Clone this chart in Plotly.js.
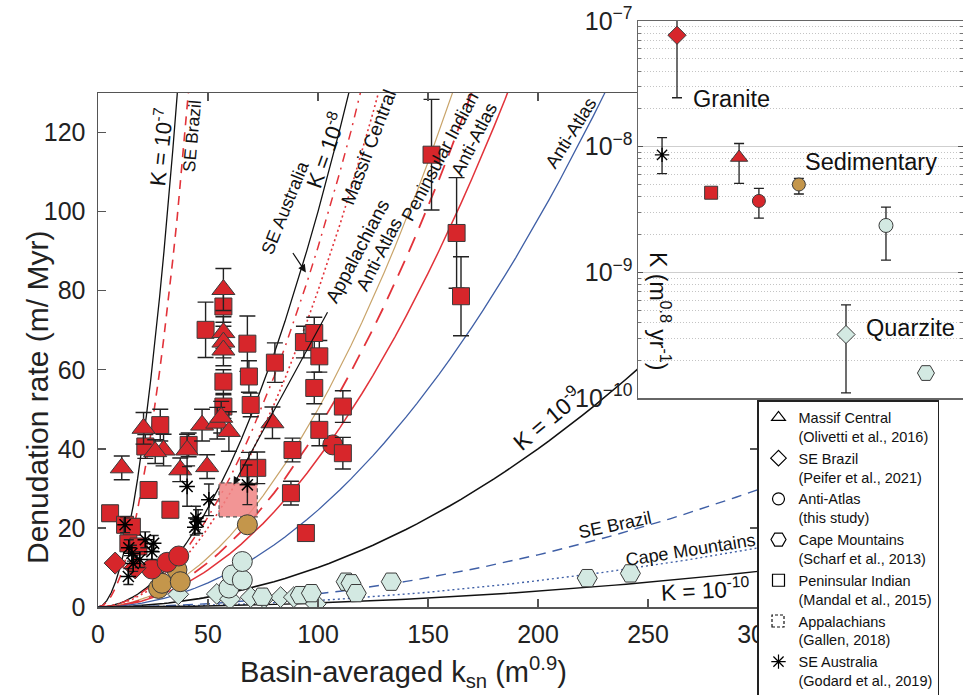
<!DOCTYPE html>
<html>
<head>
<meta charset="utf-8">
<script src="https://cdn.plot.ly/plotly-3.0.1.min.js"></script>
<style>html,body{margin:0;padding:0;background:#fff}#chart{width:963px;height:695px}</style>
</head>
<body>
<div id="chart"></div>
<script>
// ---------------- DATA ----------------
// Model curves E = K * ksn^n (n = 2), K values
var curveNames = ['K = 1e-7','SE Brazil granite','K = 1e-8','Massif Central','Appalachians','Anti-Atlas sed.','Peninsular Indian','Anti-Atlas granite','Anti-Atlas quartzite','K = 1e-9','SE Brazil quartzite','Cape Mountains','K = 1e-10'];
var curveK = [1e-7, 7.6e-8, 1e-8, 9.1e-9, 8.0e-9, 5.0e-9, 4.5e-9, 3.75e-9, 2.45e-9, 1e-9, 3.3e-10, 1.66e-10, 1e-10];
var streamPowerN = 2;
var ksnGrid = [0,2,4,6,8,10,12,14,16,18,20,22,24,26,28,30,32,34,36,38,40,42,44,46,48,50,55,60,65,70,75,80,85,90,95,100,105,110,115,120,125,130,135,140,145,150,155,160,165,170,175,180,185,190,195,200,205,210,215,220,225,230,235,240,245,250,255,260,265,270,275,280,285,290,295,300];

// Massif Central (triangles)
var mcKsn = [57, 57, 57, 57, 10.8, 20.7, 29.8, 26, 40.5, 37.4, 49.6, 47.3, 54.2, 59.5, 79.3, 56];
var mcE   = [80.3, 69.4, 67, 65, 35.2, 45.2, 39.7, 39.3, 39.7, 34.7, 35.5, 46, 46.5, 44.4, 46.6, 48];
var mcErr = [5.3, 4, 4, 4, 3, 4, 4, 3, 4, 3, 3, 4, 4, 5, 4, 4];
// Peninsular Indian (squares)
var piKsn = [57, 57, 57, 48.9, 67.9, 68.6, 69.4, 80.4, 93.6, 98.3, 100.6, 98.3, 111.3, 100.6, 111.3, 88.4, 87.7, 94.5, 72.4, 151.6, 163, 165, 28.3, 21.5, 41.2, 23, 32.9, 5.5, 12.3, 15.4, 13.8, 18.4, 68.6];
var piE   = [76, 57, 50.7, 70.1, 66.6, 58.3, 51.1, 61.8, 67, 69.3, 63.4, 55.4, 50.7, 44.8, 38.9, 39.7, 28.8, 18.7, 35.2, 114.4, 94.6, 78.6, 46, 40.6, 41, 29.6, 24.6, 23.7, 20.8, 20.3, 16.1, 15.3, 35.1];
var piErr = [4, 3, 3, 7, 7, 4, 3, 5, 4, 4, 4, 4, 4, 4, 4, 3, 3, 2, 4, 14, 14, 10, 4, 3, 3, 2, 2, 2, 2, 2, 2, 2, 4];
// SE Brazil (diamonds)
var sbGraniteKsn = [7.8, 16.9];
var sbGraniteE   = [11.1, 9.9];
var sbQuartzKsn  = [36.5, 54, 60, 69.4, 75.5, 83, 89, 99];
var sbQuartzE    = [3.2, 3.3, 2.0, 2.5, 2.2, 2.5, 2.5, 0.8];
// Anti-Atlas (circles, this study)
var aaGraniteKsn = [24.5, 31.4, 36.7, 106.7];
var aaGraniteE   = [9.6, 11.3, 12.9, 41];
var aaSedKsn = [27.5, 29.1, 35.9, 37.4, 67.9];
var aaSedE   = [4.7, 6.0, 9.4, 6.4, 20.8];
var aaQuartzKsn = [59.5, 61, 65.6, 65.6];
var aaQuartzE   = [4.8, 8.1, 6.8, 11.5];
// Cape Mountains (hexagons)
var cmKsn = [74.7, 92, 97, 112.8, 115, 117.4, 133.3, 222.4, 242];
var cmE   = [2.6, 3.0, 3.5, 6.4, 6.0, 3.5, 6.4, 7.3, 8.5];
// SE Australia (stars)
var saKsn = [40.5, 50.4, 44.5, 45.5, 44, 67.9, 12.3, 15.4, 21.5, 25.3, 24.5, 13.8, 16, 14, 19];
var saE   = [30.5, 27.1, 22.5, 21.6, 20.2, 30.9, 20.8, 13.6, 17, 16.1, 14, 7.7, 11, 15, 12];
var saErr = [5, 4, 3, 3, 2, 5, 2, 2, 2, 2, 2, 2, 2, 2, 2];
// Appalachians (box)
var apKsn = [55, 72.4];
var apE   = [22.8, 31.4];

// Inset: K by region / lithology
var insetNames = ['SE Australia','SE Brazil granite','Peninsular Indian','Massif Central','Anti-Atlas granite','Anti-Atlas sedimentary','SE Brazil quartzite','Anti-Atlas quartzite','Cape Mountains'];
var insetOrder = [0.74, 1.2, 2.25, 3.11, 3.72, 4.95, 6.4, 7.63, 8.86];
var insetK   = [8.6e-9, 7.7e-8, 4.3e-9, 8.2e-9, 3.7e-9, 5.0e-9, 3.2e-10, 2.36e-9, 1.58e-10];
var insetKhi = [1.18e-8, 1.4e-7, 4.3e-9, 1.06e-8, 4.65e-9, 5.6e-9, 5.5e-10, 3.3e-9, 1.58e-10];
var insetKlo = [6.1e-9, 2.45e-8, 4.3e-9, 5.1e-9, 2.7e-9, 4.2e-9, 1.1e-10, 1.25e-9, 1.58e-10];

var legendNames = ['Massif Central<br>(Olivetti et al., 2016)','SE Brazil<br>(Peifer et al., 2021)','Anti-Atlas<br>(this study)','Cape Mountains<br>(Scharf et al., 2013)','Peninsular Indian<br>(Mandal et al., 2015)','Appalachians<br>(Gallen, 2018)','SE Australia<br>(Godard et al., 2019)'];

// ---------------- STYLE ----------------
var RED = '#d7262b', TAN = '#c4964b', MINT = '#d3e9e2', BLUE = '#3f5fa6', OUT = '#3a3a3a';
var curveStyle = [
  {color:'#111', width:1.3, dash:'solid'},
  {color:'#e2333a', width:1.6, dash:'9px,7px'},
  {color:'#111', width:1.3, dash:'solid'},
  {color:'#e2333a', width:1.5, dash:'9px,6px,2px,6px'},
  {color:'#e2333a', width:1.6, dash:'2px,3px'},
  {color:'#c9a46a', width:1.2, dash:'solid'},
  {color:'#e2333a', width:1.8, dash:'16px,10px'},
  {color:'#e2333a', width:1.5, dash:'solid'},
  {color:BLUE, width:1.3, dash:'solid'},
  {color:'#111', width:1.6, dash:'solid'},
  {color:BLUE, width:1.4, dash:'10px,7px'},
  {color:BLUE, width:1.4, dash:'2px,3px'},
  {color:'#111', width:1.4, dash:'solid'}
];

var traces = [];
curveK.forEach(function(k, i){
  traces.push({
    x: ksnGrid, y: ksnGrid.map(function(s){ return k*Math.pow(s, streamPowerN)*1e6; }),
    type:'scatter', mode:'lines', name: curveNames[i], showlegend:false,
    line: curveStyle[i], hoverinfo:'skip', xaxis:'x', yaxis:'y'
  });
});

// Appalachians box
traces.push({
  x:[apKsn[0], apKsn[1], apKsn[1], apKsn[0], apKsn[0]],
  y:[apE[0], apE[0], apE[1], apE[1], apE[0]],
  type:'scatter', mode:'lines', fill:'toself', fillcolor:'rgba(240,130,130,0.85)',
  line:{color:'#555', width:1.2, dash:'4px,3px'}, showlegend:false, hoverinfo:'skip'
});

function pts(xs, ys, sym, col, size, err){
  var t = {x:xs, y:ys, type:'scatter', mode:'markers', showlegend:false, hoverinfo:'skip',
    marker:{symbol:sym, color:col, size:size, opacity:1, line:{color:OUT, width:1}}};
  if (err) t.error_y = {type:'data', array:err, visible:true, color:'#222', thickness:1.4, width:8};
  return t;
}
traces.push(pts(sbQuartzKsn, sbQuartzE, 'diamond', MINT, 16));
traces.push(pts(cmKsn, cmE, 'hexagon2', MINT, 20));
traces.push(pts(aaQuartzKsn, aaQuartzE, 'circle', MINT, 20));
traces.push(pts(aaSedKsn, aaSedE, 'circle', TAN, 20));
traces.push(pts(aaGraniteKsn, aaGraniteE, 'circle', RED, 20));
traces.push(pts(piKsn, piE, 'square', RED, 17, piErr));
traces.push(pts(mcKsn, mcE, 'triangle-up', RED, 20, mcErr));
traces.push(pts(sbGraniteKsn, sbGraniteE, 'diamond', RED, 17));
var sa = pts(saKsn, saE, 'asterisk', '#000', 13, saErr);
sa.marker.line = {color:'#000', width:1.5};
sa.error_y.width = 5;
traces.push(sa);

// inset
traces.push({
  x: insetOrder, y: insetK, type:'scatter', mode:'markers', xaxis:'x2', yaxis:'y2',
  showlegend:false, hoverinfo:'skip', text: insetNames,
  marker:{symbol:['asterisk','diamond','square','triangle-up','circle','circle','diamond','circle','hexagon2'],
          color:['#000', RED, RED, RED, RED, TAN, MINT, MINT, MINT],
          size:[12, 14, 13, 15, 13, 13, 14, 14, 17], opacity:1,
          line:{color:['#000', OUT, OUT, OUT, OUT, OUT, OUT, OUT, OUT], width:[1.3,1,1,1,1,1,1,1,1]}},
  error_y:{type:'data', array: insetKhi.map(function(h,i){return h-insetK[i];}),
           arrayminus: insetKlo.map(function(l,i){return insetK[i]-l;}),
           visible:true, color:'#222', thickness:1.3, width:5}
});

// legend entries
var legSym = ['triangle-up-open','diamond-open','circle-open','hexagon2-open','square-open','square-open','asterisk-open'];
legendNames.forEach(function(n, i){
  var hidden = (i === 5); // Appalachians: dashed box drawn as a shape
  traces.push({x:[null], y:[null], type:'scatter', mode:'markers', name:n, showlegend:true,
    marker:{symbol:legSym[i], size:(i===3?15:12), color:hidden?'rgba(0,0,0,0)':'#000',
            line:{color:hidden?'rgba(0,0,0,0)':'#000', width:1.2}},
    xaxis:'x', yaxis:'y'});
});

// ---------------- LAYOUT ----------------
var W = 963, H = 695;
function px(x){ return x / W; }
function py(y){ return 1 - y / H; }
var F = 'Liberation Sans, Arial, sans-serif';

function lbl(text, x, y, ang, size, col){
  return {text:text, xref:'paper', yref:'paper', x:px(x), y:py(y), xanchor:'center', yanchor:'middle',
    showarrow:false, textangle:ang, font:{family:F, size:size, color:col||'#111'}};
}

var annotations = [
  lbl('K = 10<sup>-7</sup>', 160, 147, -84, 22),
  lbl('SE Brazil', 192, 136, -85, 17.5),
  lbl('SE Australia', 285, 208, -68, 18),
  lbl('K = 10<sup>-8</sup>', 325, 150, -70, 22),
  lbl('Massif Central', 369, 148, -69, 19),
  lbl('Appalachians', 357, 251, -62, 19),
  lbl('Anti-Atlas', 379, 255, -63, 18.5),
  lbl('Peninsular Indian', 440, 157, -62, 18.5),
  lbl('Anti-Atlas', 474, 140, -63, 18.5),
  lbl('Anti-Atlas', 570, 133, -58, 18.5),
  lbl('K = 10<sup>-9</sup>', 547, 418, -40, 23),
  lbl('SE Brazil', 615, 525, -12, 18),
  lbl('Cape Mountains', 690, 550, -9, 18),
  lbl('K = 10<sup>-10</sup>', 705, 589, -3, 22.5),
  lbl('Granite', 731, 99, 0, 23.5),
  lbl('Sedimentary', 871, 162, 0, 23.5),
  lbl('Quarzite', 910, 328, 0, 23.5),
  lbl('K (m<sup>0.8</sup> yr<sup>-1</sup>)', 660, 311, 90, 23),
  lbl('Denudation rate (m/ Myr)', 38, 398, -90, 30, '#222'),
  lbl('Basin-averaged k<sub>sn</sub> (m<sup>0.9</sup>)', 403, 672, 0, 29, '#222'),
  {text:' ', x:94.5, y:84.6, xref:'x', yref:'y', showarrow:true, ax:-16, ay:-24,
   arrowhead:2, arrowsize:1.3, arrowwidth:1.2, arrowcolor:'#111', standoff:0},
  {text:' ', x:61.6, y:30.9, xref:'x', yref:'y', showarrow:true, ax:97, ay:-178,
   arrowhead:2, arrowsize:1.3, arrowwidth:1.2, arrowcolor:'#111', standoff:0}
];

var shapes = [
  // white panel behind the (transparent) legend
  {type:'rect', xref:'paper', yref:'paper', x0:px(757), x1:1, y0:0, y1:py(400),
   fillcolor:'#fff', line:{width:0}, layer:'above'},
  // dashed legend symbol for Appalachians
  {type:'rect', xref:'paper', yref:'paper', x0:px(772), x1:px(784), y0:py(627), y1:py(615),
   fillcolor:'rgba(0,0,0,0)', line:{color:'#111', width:1.2, dash:'3px,2px'}, layer:'above'}
];

var layout = {
  width:W, height:H, margin:{l:0, r:0, t:0, b:0, autoexpand:false},
  paper_bgcolor:'#fff', plot_bgcolor:'#fff',
  font:{family:F, color:'#222'},
  showlegend:true,
  legend:{x:px(757), y:py(400), xanchor:'left', yanchor:'top', bgcolor:'rgba(255,255,255,0)',
          bordercolor:'#222', borderwidth:1.5, font:{family:F, size:14.5, color:'#111'},
          valign:'top', tracegroupgap:0, itemwidth:30},
  xaxis:{domain:[px(98), px(758)], range:[0,300], tickvals:[0,50,100,150,200,250,300],
         ticks:'inside', ticklen:8, tickwidth:1.3, tickcolor:'#555', mirror:'ticks',
         showline:true, linecolor:'#555', linewidth:1.5, showgrid:false, zeroline:false,
         ticklabelstandoff:4,
         tickfont:{family:F, size:25, color:'#222'}, anchor:'y'},
  yaxis:{domain:[py(607), py(93)], range:[0,130], tickvals:[0,20,40,60,80,100,120],
         ticks:'inside', ticklen:8, tickwidth:1.3, tickcolor:'#555', mirror:'ticks',
         showline:true, linecolor:'#555', linewidth:1.5, showgrid:false, zeroline:false,
         ticklabelstandoff:6,
         tickfont:{family:F, size:25, color:'#222'}, anchor:'x'},
  xaxis2:{domain:[px(638), 1], range:[0,10], showticklabels:false, ticks:'',
          showline:true, mirror:true, linecolor:'#666', linewidth:1.5, showgrid:false, zeroline:false, anchor:'y2'},
  yaxis2:{domain:[py(398), py(21)], type:'log', range:[-10,-7], dtick:1, exponentformat:'power',
          showexponent:'all', ticks:'inside', ticklen:5, tickcolor:'#555', mirror:'ticks',
          showline:true, linecolor:'#666', linewidth:1.5, showgrid:true, gridcolor:'#cfcfcf', gridwidth:1.2,
          minor:{dtick:'D1', showgrid:true, gridcolor:'#c4c4c4', griddash:'1px,2px', gridwidth:1, ticks:'inside', ticklen:3, tickcolor:'#777'},
          zeroline:false, tickfont:{family:F, size:20, color:'#222'}, anchor:'x2'},
  annotations: annotations,
  shapes: shapes
};

Plotly.newPlot('chart', traces, layout, {displayModeBar:false, staticPlot:true});
</script>
</body>
</html>
